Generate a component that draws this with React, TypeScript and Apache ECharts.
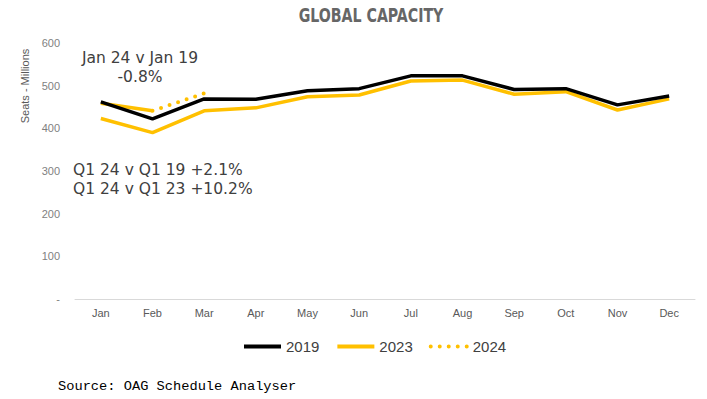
import React, { useEffect, useRef } from "react";
import * as echarts from "echarts";

const months = ["Jan", "Feb", "Mar", "Apr", "May", "Jun", "Jul", "Aug", "Sep", "Oct", "Nov", "Dec"];
const s2019 = [462, 422, 469, 468, 488, 493, 523, 523, 491, 493, 455, 476];
const s2023 = [423, 390, 441, 448, 474, 478, 511, 513, 480, 486, 443, 469];
const s2024Actual = [459, 441, null, null, null, null, null, null, null, null, null, null];
const s2024 = [null, 441, 482, null, null, null, null, null, null, null, null, null];
const yTicks = [0, 100, 200, 300, 400, 500, 600];

const FONT = "'Liberation Sans', Arial, sans-serif";
const ANNOT_FONT = "15.5px 'DejaVu Sans', sans-serif";
const YELLOW = "#FFC000";

export default function App() {
  const ref = useRef<HTMLDivElement>(null);
  useEffect(() => {
    if (!ref.current) return;
    const chart = echarts.init(ref.current, null, { renderer: "svg" });
    chart.setOption({
      animation: false,
      backgroundColor: "#fff",
      textStyle: { fontFamily: FONT },
      grid: { left: 75, right: 12, top: 43, bottom: 100 },
      legend: {
        left: 237,
        top: 334,
        itemWidth: 37,
        itemHeight: 14,
        itemGap: 16,
        itemStyle: { opacity: 0 },
        lineStyle: { width: 4 },
        data: ["2019", "2023", "2024"],
        textStyle: { fontSize: 15, color: "#404040", fontFamily: FONT },
      },
      xAxis: {
        type: "category",
        data: months,
        boundaryGap: true,
        axisLine: { lineStyle: { color: "#d9d9d9", width: 1 } },
        axisTick: { show: false },
        axisLabel: { color: "#595959", fontSize: 11, margin: 8 },
      },
      yAxis: {
        type: "value",
        min: yTicks[0],
        max: yTicks[yTicks.length - 1],
        interval: 100,
        splitLine: { show: false },
        axisLine: { show: false },
        axisTick: { show: false },
        axisLabel: {
          color: "#7f7f7f",
          fontSize: 11,
          margin: 15,
          formatter: (v: number) => (v === 0 ? "-" : String(v)),
        },
      },
      series: [
        {
          name: "2019",
          type: "line",
          data: s2019,
          symbol: "none",
          color: "#000",
          lineStyle: { color: "#000", width: 3.5 },
          z: 3,
        },
        {
          name: "2023",
          type: "line",
          data: s2023,
          symbol: "none",
          color: YELLOW,
          lineStyle: { color: YELLOW, width: 3.5 },
          z: 2,
        },
        {
          name: "2024a",
          type: "line",
          data: s2024Actual,
          symbol: "none",
          color: YELLOW,
          lineStyle: { color: YELLOW, width: 3.5 },
          z: 2,
        },
        {
          name: "2024",
          type: "line",
          data: s2024,
          symbol: "none",
          color: YELLOW,
          lineStyle: { color: YELLOW, width: 4, type: [0, 9], cap: "round" },
          z: 2,
        },
      ],
      graphic: [
        {
          type: "text",
          x: 371,
          y: 6,
          scaleX: 0.83,
          style: {
            text: "GLOBAL CAPACITY",
            fill: "#666",
            font: "bold 19px 'DejaVu Sans Condensed', 'Liberation Sans', sans-serif",
            textAlign: "center",
          },
        },
        {
          type: "text",
          x: 25,
          y: 86,
          rotation: Math.PI / 2,
          style: {
            text: "Seats - Millions",
            fill: "#595959",
            font: `11px ${FONT}`,
            textAlign: "center",
            textVerticalAlign: "middle",
          },
        },
        {
          type: "text",
          x: 140,
          y: 58,
          style: {
            text: "Jan 24 v Jan 19",
            fill: "#404040",
            font: ANNOT_FONT,
            textAlign: "center",
            textVerticalAlign: "middle",
          },
        },
        {
          type: "text",
          x: 140,
          y: 77,
          style: {
            text: "-0.8%",
            fill: "#404040",
            font: ANNOT_FONT,
            textAlign: "center",
            textVerticalAlign: "middle",
          },
        },
        {
          type: "text",
          x: 73,
          y: 170,
          style: {
            text: "Q1 24 v Q1 19 +2.1%",
            fill: "#404040",
            font: ANNOT_FONT,
            textVerticalAlign: "middle",
          },
        },
        {
          type: "text",
          x: 73,
          y: 189,
          style: {
            text: "Q1 24 v Q1 23 +10.2%",
            fill: "#404040",
            font: ANNOT_FONT,
            textVerticalAlign: "middle",
          },
        },
        {
          type: "text",
          x: 58,
          y: 386,
          style: {
            text: "Source: OAG Schedule Analyser",
            fill: "#000",
            font: "13.7px 'Liberation Mono', 'DejaVu Sans Mono', monospace",
            textVerticalAlign: "middle",
          },
        },
      ],
    });
    return () => chart.dispose();
  }, []);
  return (
    <div
      ref={ref}
      style={{ position: "absolute", left: 0, top: 0, width: 707, height: 399 }}
    />
  );
}
